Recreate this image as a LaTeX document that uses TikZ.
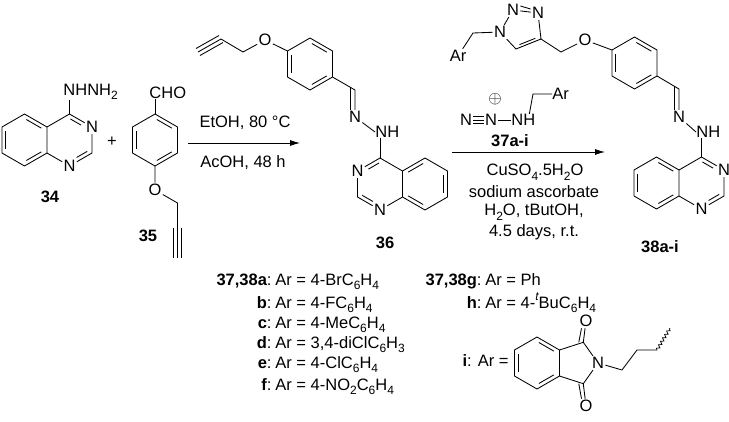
\documentclass[tikz,border=0pt]{standalone}
\usepackage{fontspec}
\setmainfont{Liberation Sans}
\usetikzlibrary{calc,arrows.meta,decorations.pathmorphing}
\newcommand\sub[1]{\raisebox{-0.28em}{\fontsize{12}{12}\selectfont #1}}
\newcommand\hexa[3]{%
 \coordinate (#1c) at (#2,#3);
 \coordinate (#11) at (#2,#3-26);
 \coordinate (#12) at (#2+22.5,#3-13);
 \coordinate (#13) at (#2+22.5,#3+13);
 \coordinate (#14) at (#2,#3+26);
 \coordinate (#15) at (#2-22.5,#3+13);
 \coordinate (#16) at (#2-22.5,#3-13);}
\newcommand\ib[5]{\path ($(#1)!0.17!(#3)$) coordinate (ibP) ($(#2)!0.17!(#3)$) coordinate (ibQ);
 \draw ($(ibP)!#4!(ibQ)$) -- ($(ibQ)!#5!(ibP)$);}
\begin{document}
\begin{tikzpicture}[x=1pt,y=-1pt,line width=0.85pt,
 every node/.style={font=\fontsize{16.5}{19}\selectfont},
 atom/.style={inner sep=1pt},
 lbl/.style={font=\fontsize{16.5}{19}\selectfont\bfseries},
 txt/.style={anchor=base west,inner sep=0pt},
 tag/.style={anchor=base east,inner sep=0pt,font=\fontsize{16.5}{19}\selectfont},
 rx/.style={-{Latex[length=10pt,width=6pt]},line width=0.85pt}]
\useasboundingbox (0,0) rectangle (729,421);
% ---------- 34 ----------
\hexa{A}{24.5}{140}\hexa{B}{69.5}{140}
\node[atom] (a34n3) at (B2) {N};
\node[atom] (a34n1) at (B4) {N};
\node[atom,anchor=west,inner sep=0pt] (a34nh) at (63,92) {NHNH\sub{2}};
\draw (A1)--(A2)--(A3)--(A4)--(A5)--(A6)--cycle;
\draw (B6)--(B1)--(a34n3)--(B3)--(a34n1)--(B5);
\draw (B1)--(B1 |- a34nh.south);
\ib{A5}{A6}{Ac}{0.1}{0.1}\ib{A1}{A2}{Ac}{0.1}{0.1}\ib{A3}{A4}{Ac}{0.1}{0.1}
\ib{B1}{B2}{Bc}{0.05}{0.38}\ib{B3}{B4}{Bc}{0.05}{0.38}
\node (plus) at (112,142) {+};
\node[lbl] (l34) at (50,197) {34};
% ---------- 35 ----------
\hexa{C}{155}{140}
\draw (C1)--(C2)--(C3)--(C4)--(C5)--(C6)--cycle;
\ib{C5}{C6}{Cc}{0.1}{0.1}\ib{C1}{C2}{Cc}{0.1}{0.1}\ib{C3}{C4}{Cc}{0.1}{0.1}
\node[atom,anchor=south west,inner sep=0pt] (cho) at (149,99) {CHO};
\draw (C1)--(C1 |- cho.south);
\node[atom] (o35) at (155,190) {O};
\coordinate (c35a) at (177.5,203);
\coordinate (c35b) at (177.5,228);
\coordinate (c35c) at (177.5,258);
\draw (C4)--(o35)--(c35a)--(c35b);
\draw (c35b)--(c35c);
\draw ([xshift=-4]c35b)--([xshift=-4]c35c);
\draw ([xshift=4]c35b)--([xshift=4]c35c);
\node[lbl] (l35) at (148,236) {35};
% ---------- arrow 1 ----------
\coordinate (r1s) at (188,143);
\coordinate (r1e) at (300,143);
\draw[rx] (r1s)--(r1e);
\node (t1a) at (245,123) {EtOH, 80 °C};
\node (t1b) at (243,163) {AcOH, 48 h};
% ---------- 36 ----------
\hexa{D}{310}{64}
\draw (D1)--(D2)--(D3)--(D4)--(D5)--(D6)--cycle;
\ib{D5}{D6}{Dc}{0.1}{0.1}\ib{D1}{D2}{Dc}{0.1}{0.1}\ib{D3}{D4}{Dc}{0.1}{0.1}
\node[atom] (o36) at (265,40) {O};
\coordinate (d36a) at (243,52);
\coordinate (d36b) at (221,39);
\coordinate (d36c) at (198,52);
\draw (D6)--(o36)--(d36a)--(d36b);
\draw (d36b)--(d36c);
\draw ($(d36b)+(-2,-3.5)$)--($(d36c)+(-2,-3.5)$);
\draw ($(d36b)+(2,3.5)$)--($(d36c)+(2,3.5)$);
\coordinate (d36ch) at (355,90);
\node[atom] (d36n) at (355,117) {N};
\node[atom,anchor=west,inner sep=0pt] (d36nh) at (375,132) {NH};
\draw (D3)--(d36ch)--(d36n);
\draw ([xshift=-4.5,yshift=3]d36ch)--([xshift=-4.5]d36n.north);
\draw (d36n)--(d36nh.west);
\hexa{E}{380}{184}\hexa{F}{425}{184}
\node[atom] (e36n3) at (E6) {N};
\node[atom] (e36n1) at (E4) {N};
\draw (E1)--(E1 |- d36nh.south);
\draw (E2)--(E1)--(e36n3)--(E5)--(e36n1)--(E3);
\draw (F1)--(F2)--(F3)--(F4)--(F5)--(F6)--cycle;
\ib{E1}{E6}{Ec}{0.05}{0.38}\ib{E5}{E4}{Ec}{0.05}{0.38}
\ib{F6}{F1}{Fc}{0.1}{0.1}\ib{F2}{F3}{Fc}{0.1}{0.1}\ib{F4}{F5}{Fc}{0.1}{0.1}
\node[lbl] (l36) at (385,243) {36};
% ---------- arrow 2 ----------
\coordinate (r2s) at (452,152);
\coordinate (r2e) at (605,152);
\draw[rx] (r2s)--(r2e);
\node[atom] (rna) at (466,120) {N};
\node[atom] (rnb) at (491,120) {N};
\node[atom,anchor=west,inner sep=0pt] (rnh) at (511,120) {NH};
\node[inner sep=0pt,font=\fontsize{16}{16}\selectfont] (plusc) at (495,99) {$\oplus$};
\draw (rna)--(rnb);
\draw ([yshift=3.5]rna.east)--([yshift=3.5]rnb.west);
\draw ([yshift=-3.5]rna.east)--([yshift=-3.5]rnb.west);
\draw (rnb)--(rnh.west);
\coordinate (rk1) at (533,94);
\node[atom,anchor=west,inner sep=0pt] (rar) at (552,94) {Ar};
\draw ($(rnh.north)+(6,0)$)--(rk1)--(rar.west);
\node[lbl] (l37) at (510,141) {37a-i};
\node (t2a) at (535,172) {CuSO\sub{4}.5H\sub{2}O};
\node (t2b) at (534,192) {sodium ascorbate};
\node (t2c) at (534,212) {H\sub{2}O, tButOH,};
\node (t2d) at (534,232) {4.5 days, r.t.};
% ---------- 38 ----------
\node[atom] (tn1) at (500,32) {N};
\node[atom] (tn2) at (513,10) {N};
\node[atom] (tn3) at (538,13) {N};
\coordinate (tc4) at (541,39);
\coordinate (tc5) at (516,49);
\coordinate (tcen) at (522,29);
\draw (tn1)--(tn2)--(tn3)--(tc4)--(tc5)--(tn1);
\draw ([yshift=4]tn2.east)--([yshift=4]tn3.west);
\ib{tc4}{tc5}{tcen}{0.12}{0.12}
\coordinate (tch) at (473,33);
\node[atom] (tar) at (458,56) {Ar};
\draw (tn1)--(tch)--(tar);
\coordinate (tch2) at (561,52);
\node[atom] (o38) at (585,40) {O};
\hexa{G}{634.5}{63}
\draw (tc4)--(tch2)--(o38)--(G6);
\draw (G1)--(G2)--(G3)--(G4)--(G5)--(G6)--cycle;
\ib{G5}{G6}{Gc}{0.1}{0.1}\ib{G1}{G2}{Gc}{0.1}{0.1}\ib{G3}{G4}{Gc}{0.1}{0.1}
\coordinate (gch) at (679,89);
\node[atom] (g38n) at (679,117) {N};
\node[atom,anchor=west,inner sep=0pt] (g38nh) at (696,132) {NH};
\draw (G3)--(gch)--(g38n);
\draw ([xshift=-4.5,yshift=3]gch)--([xshift=-4.5]g38n.north);
\draw (g38n)--(g38nh.west);
\hexa{H}{656.5}{183}\hexa{J}{701.5}{183}
\node[atom] (j38n3) at (J2) {N};
\node[atom] (j38n1) at (J4) {N};
\draw (J1)--(J1 |- g38nh.south);
\draw (H1)--(H2)--(H3)--(H4)--(H5)--(H6)--cycle;
\draw (J6)--(J1)--(j38n3)--(J3)--(j38n1)--(J5);
\ib{H5}{H6}{Hc}{0.1}{0.1}\ib{H1}{H2}{Hc}{0.1}{0.1}\ib{H3}{H4}{Hc}{0.1}{0.1}
\ib{J1}{J2}{Jc}{0.05}{0.38}\ib{J3}{J4}{Jc}{0.05}{0.38}
\node[lbl] (l38) at (660,247) {38a-i};
% ---------- legend ----------
\node[tag] (ka) at (272,285) {\bfseries 37,38a\mdseries:};
\node[txt] (va) at (275,285) {Ar = 4-BrC\sub{6}H\sub{4}};
\node[tag] (kb) at (272,308) {\bfseries b\mdseries:};
\node[txt] (vb) at (275,308) {Ar = 4-FC\sub{6}H\sub{4}};
\node[tag] (kc) at (272,328) {\bfseries c\mdseries:};
\node[txt] (vc) at (275,328) {Ar = 4-MeC\sub{6}H\sub{4}};
\node[tag] (kd) at (272,348) {\bfseries d\mdseries:};
\node[txt] (vd) at (275,348) {Ar = 3,4-diClC\sub{6}H\sub{3}};
\node[tag] (ke) at (272,368) {\bfseries e\mdseries:};
\node[txt] (ve) at (275,368) {Ar = 4-ClC\sub{6}H\sub{4}};
\node[tag] (kf) at (272,390) {\bfseries f\mdseries:};
\node[txt] (vf) at (275,390) {Ar = 4-NO\sub{2}C\sub{6}H\sub{4}};
\node[tag] (kg) at (482,285) {\bfseries 37,38g\mdseries:};
\node[txt] (vg) at (485,285) {Ar = Ph};
\node[tag] (kh) at (482,308) {\bfseries h\mdseries:};
\node[txt] (vh) at (485,308) {Ar = 4-\raisebox{0.45em}{\fontsize{12}{12}\selectfont\itshape t}BuC\sub{6}H\sub{4}};
\node[tag] (ki) at (509,366) {\bfseries i\mdseries: Ar =};
% phthalimide
\hexa{K}{537}{363}
\draw (K1)--(K2)--(K3)--(K4)--(K5)--(K6)--cycle;
\ib{K5}{K6}{Kc}{0.1}{0.1}\ib{K1}{K2}{Kc}{0.1}{0.1}\ib{K3}{K4}{Kc}{0.1}{0.1}
\coordinate (kc1) at (583.3,342.3);
\coordinate (kc2) at (583.3,383.7);
\node[atom] (kn) at (598,363) {N};
\node[atom] (ko1) at (586,321) {O};
\node[atom] (ko2) at (586,406) {O};
\draw (K2)--(kc1)--(kn)--(kc2)--(K3);
\draw (kc1)--(ko1);
\draw ([xshift=-4.5]kc1)--([xshift=-4.5]ko1.south);
\draw (kc2)--(ko2);
\draw ([xshift=-4.5]kc2)--([xshift=-4.5]ko2.north);
\coordinate (kca) at (622,370);
\coordinate (kcb) at (637,350);
\coordinate (kcc) at (657,350);
\coordinate (kcd) at (670,328);
\draw (kn)--(kca)--(kcb)--(kcc);
\draw[line width=0.7pt,decorate,decoration={snake,amplitude=1.5pt,segment length=4pt}] (kcc)--(kcd);
\end{tikzpicture}
\end{document}
